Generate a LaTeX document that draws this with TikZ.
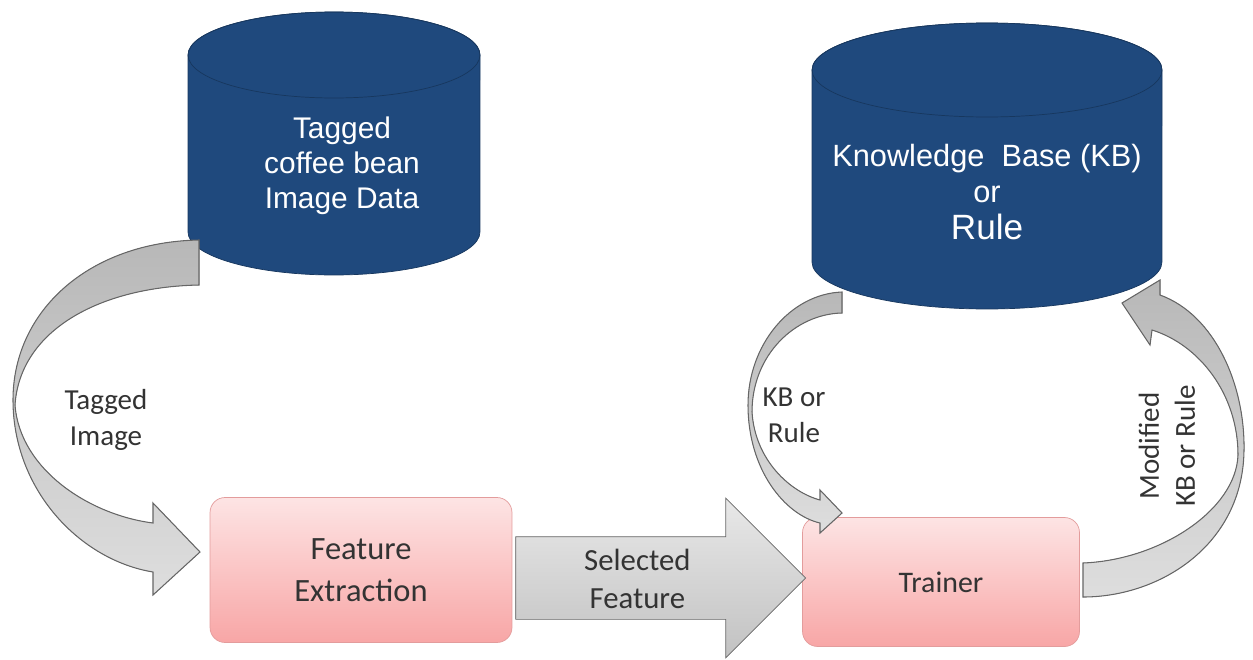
\documentclass[tikz,border=0pt]{standalone}
\usepackage{fontspec}
\setmainfont{Carlito}
\newfontfamily\arialf{Liberation Sans}
\usetikzlibrary{shapes.arrows,calc}

\definecolor{cylBlue}{HTML}{1F497D}
\definecolor{cylEdge}{HTML}{17375E}
\definecolor{boxTop}{HTML}{FDE4E4}
\definecolor{boxBot}{HTML}{F8A6A6}
\definecolor{boxEdge}{HTML}{E39C9C}
\definecolor{txtGray}{HTML}{333333}

\begin{document}
\begin{tikzpicture}[x=0.02cm, y=-0.02cm,
    boite/.style={draw=boxEdge, rounded corners=0.3cm, top color=boxTop, bottom color=boxBot,
        text=txtGray, align=center, font=\fontsize{18.5}{24}\selectfont},
    ruban/.style={draw=black!60, line width=0.6pt, top color=black!28, bottom color=black!13},
    etiq/.style={text=txtGray, align=center, font=\fontsize{16.5}{20.5}\selectfont},
    cylTxt/.style={text=white, align=center, font=\arialf\fontsize{17}{20}\selectfont}]

        \useasboundingbox (0,0) rectangle (1253,659);

        % bases de donnees
        \filldraw[fill=cylBlue, draw=cylEdge] (188,55) -- (188,232)
        arc[start angle=180, end angle=360, x radius=2.92cm, y radius=0.86cm] -- (480,55)
        arc[start angle=0, end angle=180, x radius=2.92cm, y radius=0.86cm] -- cycle;
        \draw[cylEdge] (334,55) ellipse [x radius=2.92cm, y radius=0.86cm];
        \node[cylTxt] (tagData) at (342,166) {Tagged\\coffee bean\\Image Data};

        \filldraw[fill=cylBlue, draw=cylEdge] (812,70) -- (812,262)
        arc[start angle=180, end angle=360, x radius=3.5cm, y radius=0.94cm] -- (1162,70)
        arc[start angle=0, end angle=180, x radius=3.5cm, y radius=0.94cm] -- cycle;
        \draw[cylEdge] (987,70) ellipse [x radius=3.5cm, y radius=0.94cm];
        \node[cylTxt, font=\arialf\fontsize{17.5}{21}\selectfont] (kBase) at (987,192)
            {Knowledge\ \ Base (KB)\\or\\{\fontsize{20}{21}\selectfont Rule}};

        % boites
        \node[boite, minimum width=6.04cm, minimum height=2.9cm] (fExtract) at (361,570) {Feature\\Extraction};
        \node[boite, minimum width=5.54cm, minimum height=2.58cm, font=\fontsize{17}{20}\selectfont]
            (trainer) at (941,582) {Trainer};

        % fleche entre les boites
        \node[single arrow, draw=black!60, top color=black!9, bottom color=black!24,
            inner xsep=0pt, inner ysep=0.82cm, minimum height=5.8cm,
            single arrow head extend=0.77cm, anchor=tail]
            (selArrow) at ($(fExtract.east)+(3,8)$) {};
        \node[etiq, font=\fontsize{17.5}{21.5}\selectfont] (selFeat) at ($(selArrow.tail)+(122,1)$) {Selected\\Feature};

        % fleches courbes
        \filldraw[ruban] (199,240) .. controls (90,242) and (13,310) .. (13,400)
        .. controls (13,490) and (80,560) .. (153,572) -- (153,595) -- (200,552) -- (153,503) -- (153,523)
        .. controls (90,515) and (20,470) .. (15,405)
        .. controls (20,330) and (100,287) .. (199,285) -- cycle;

        \filldraw[ruban] (842,292) .. controls (790,294) and (748,345) .. (748,405)
        .. controls (748,470) and (785,515) .. (820,523) -- (820,533) -- (842,513) -- (820,490) -- (820,500)
        .. controls (790,492) and (755,460) .. (752,412)
        .. controls (752,355) and (795,314) .. (842,313) -- cycle;

        \filldraw[ruban] (1083,563) .. controls (1160,560) and (1236,510) .. (1238,455)
        .. controls (1238,395) and (1200,345) .. (1152,330) -- (1150,345) -- (1122,303) -- (1160,280) -- (1160,295)
        .. controls (1215,315) and (1245,385) .. (1244,450)
        .. controls (1243,545) and (1160,597) .. (1083,597) -- cycle;

        % etiquettes des fleches
        \node[etiq] (tagImg) at (106,420) {Tagged\\Image};
        \node[etiq] (kbRule) at (794,415) {KB or\\Rule};
        \node[etiq, rotate=90] (modKB) at (1167,446) {Modified\\KB or Rule};
\end{tikzpicture}
\end{document}
